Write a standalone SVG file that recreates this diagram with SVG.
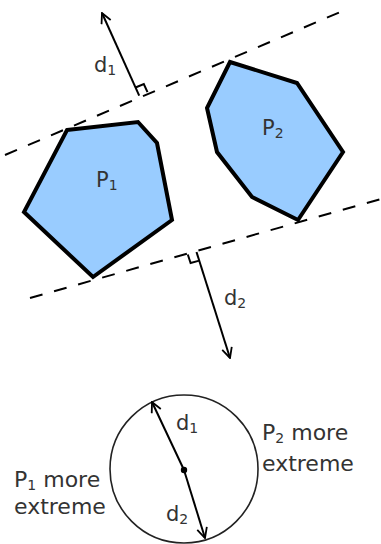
<svg xmlns="http://www.w3.org/2000/svg" width="381" height="544" viewBox="0 0 381 544">
<style>
.poly{fill:#99ccff;stroke:#000;stroke-width:4;stroke-linejoin:miter}
.dash{fill:none;stroke:#000;stroke-width:2;stroke-dasharray:13 12}
.arr{fill:none;stroke:#000;stroke-width:2;marker-end:url(#head)}
.mark{fill:none;stroke:#000;stroke-width:2}
.t{font-family:"DejaVu Sans",Verdana,sans-serif;font-size:21px;fill:#333}
.b{font-size:22px}
.s{font-size:14px}
</style>
<defs>
<marker id="head" viewBox="0 0 12 12" refX="11" refY="6" markerWidth="12" markerHeight="12" markerUnits="userSpaceOnUse" orient="auto">
<path d="M1,1 L11,6 L1,11" fill="none" stroke="#000" stroke-width="1.8"/>
</marker>
</defs>
<g id="P1">
<polygon class="poly" points="67,130 138,122 157,143 172,220 93,277 24,212"/>
<text class="t" x="96" y="187">P<tspan class="s" dy="3">1</tspan></text>
</g>
<g id="P2">
<polygon class="poly" points="230,62 297,83 343,152 298,220 252,197 217,152 207,108"/>
<text class="t" x="262" y="135">P<tspan class="s" dy="3">2</tspan></text>
</g>
<g id="connectors">
<line class="dash" x1="5" y1="155" x2="345" y2="10"/>
<line class="dash" x1="30" y1="298" x2="381" y2="199"/>
<line class="arr" x1="139.2" y1="95.7" x2="102" y2="13"/>
<polyline class="mark" points="135.5,87.5 143.8,84 147.5,92.2"/>
<line class="arr" x1="196.5" y1="252" x2="230" y2="358"/>
<polyline class="mark" points="199.3,260.6 190.6,263 187.8,254.5"/>
<text class="t" x="94" y="72">d<tspan class="s" dy="3">1</tspan></text>
<text class="t" x="224" y="305">d<tspan class="s" dy="3">2</tspan></text>
</g>
<g id="circle">
<circle cx="184" cy="469" r="74" fill="none" stroke="#222" stroke-width="1.6"/>
<line class="arr" x1="184" y1="470" x2="152" y2="402"/>
<line class="arr" x1="184" y1="470" x2="205" y2="538"/>
<circle cx="184" cy="470" r="3.2" fill="#000"/>
<text class="t" x="176" y="430">d<tspan class="s" dy="3">1</tspan></text>
<text class="t" x="166" y="521">d<tspan class="s" dy="3">2</tspan></text>
</g>
<g id="labels">
<text class="t b" x="14" y="487">P<tspan class="s" dy="3">1</tspan><tspan dy="-3"> more</tspan></text>
<text class="t b" x="14" y="514">extreme</text>
<text class="t b" x="262" y="440">P<tspan class="s" dy="3">2</tspan><tspan dy="-3"> more</tspan></text>
<text class="t b" x="262" y="471">extreme</text>
</g>
</svg>
